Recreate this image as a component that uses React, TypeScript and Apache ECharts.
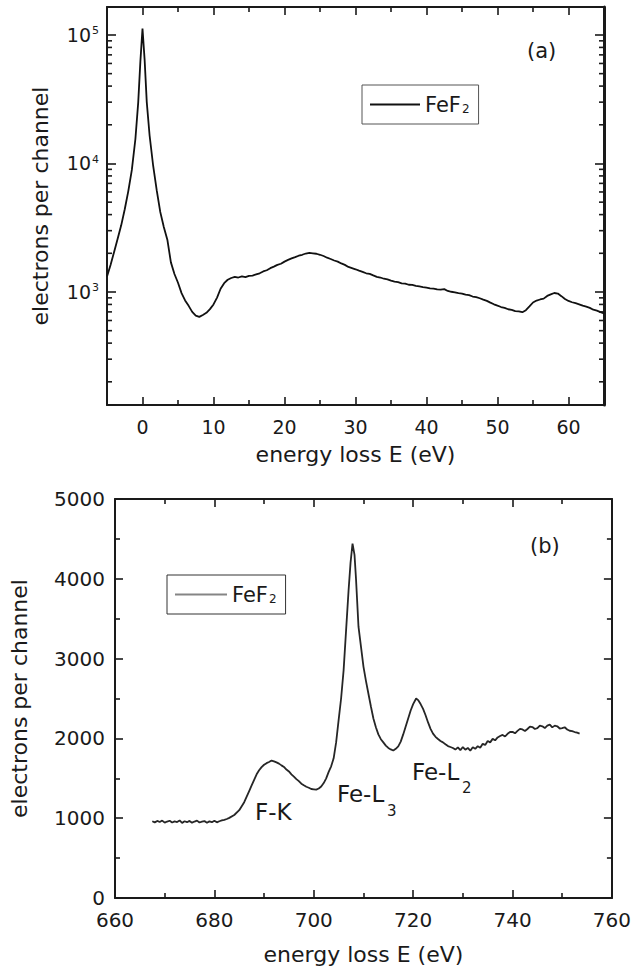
import React, { useEffect, useRef } from 'react';
import * as echarts from 'echarts';

// ---- Panel (a): low-loss spectrum (log scale) ----
const lowLossEnergy = [
  -5.0, -4.5, -4.0, -3.5, -3.0, -2.5, -2.0, -1.5, -1.0, -0.6, -0.3, 0.0, 0.3, 0.6, 1.0, 1.5, 2.0, 2.5, 3.0, 3.5,
  4.0, 4.5, 5.0, 5.5, 6.0, 6.5, 7.0, 7.5, 8.0, 8.5, 9.0, 9.5, 10.0, 10.5, 11.0, 11.5, 12.0, 12.5, 13.0, 13.5,
  14.0, 14.5, 15.0, 15.5, 16.0, 16.5, 17.0, 17.5, 18.0, 18.5, 19.0, 19.5, 20.0, 20.5, 21.0, 21.5, 22.0, 22.5, 23.0, 23.5,
  24.0, 24.5, 25.0, 25.5, 26.0, 26.5, 27.0, 27.5, 28.0, 28.5, 29.0, 29.5, 30.0, 30.5, 31.0, 31.5, 32.0, 32.5, 33.0, 33.5,
  34.0, 34.5, 35.0, 35.5, 36.0, 36.5, 37.0, 37.5, 38.0, 38.5, 39.0, 39.5, 40.0, 40.5, 41.0, 41.5, 42.0, 42.5, 43.0, 43.5,
  44.0, 44.5, 45.0, 45.5, 46.0, 46.5, 47.0, 47.5, 48.0, 48.5, 49.0, 49.5, 50.0, 50.5, 51.0, 51.5, 52.0, 52.5, 53.0, 53.5,
  54.0, 54.5, 55.0, 55.5, 56.0, 56.5, 57.0, 57.5, 58.0, 58.5, 59.0, 59.5, 60.0, 60.5, 61.0, 61.5, 62.0, 62.5, 63.0, 63.5,
  64.0, 64.5, 65.0,
];
const lowLossCounts = [
  1320, 1620, 2050, 2600, 3300, 4400, 6100, 8900, 15500, 30000, 62000, 112000, 64000, 30000, 16500, 9600, 6200, 4200, 3200, 2550,
  1700, 1380, 1180, 980, 860, 780, 700, 655, 640, 662, 688, 735, 800, 905, 1060, 1170, 1245, 1285, 1312, 1296,
  1322, 1305, 1334, 1340, 1372, 1398, 1445, 1476, 1532, 1575, 1625, 1658, 1722, 1776, 1824, 1866, 1915, 1948, 1992, 2012,
  2000, 1984, 1948, 1905, 1848, 1806, 1758, 1724, 1668, 1625, 1566, 1534, 1502, 1466, 1434, 1398, 1384, 1346, 1312, 1296,
  1268, 1254, 1226, 1204, 1192, 1168, 1162, 1138, 1134, 1116, 1104, 1092, 1082, 1068, 1062, 1046, 1044, 1052, 1018, 1004,
  992, 978, 972, 952, 944, 922, 912, 894, 872, 852, 826, 802, 782, 764, 752, 734, 726, 710, 706, 696,
  722, 772, 828, 858, 874, 888, 932, 958, 982, 972, 928, 882, 852, 832, 818, 802, 782, 768, 752, 728,
  716, 698, 680,
];
const lowLossXLabelValues = [0, 10, 20, 30, 40, 50, 60];
const lowLossXMinorValues = [5, 15, 25, 35, 45, 55];
const lowLossYMinorValues = [
  200, 300, 400, 500, 600, 700, 800, 900,
  2000, 3000, 4000, 5000, 6000, 7000, 8000, 9000,
  20000, 30000, 40000, 50000, 60000, 70000, 80000, 90000,
];
const lowLossXRange = [-5, 65];
const lowLossYRange = [132, 165000];

// ---- Panel (b): core-loss spectrum (linear scale) ----
const coreLossEnergy = [
  667.5, 668, 668.5, 669, 669.5, 670, 670.5, 671, 671.5, 672, 672.5, 673, 673.5, 674, 674.5, 675, 675.5, 676, 676.5, 677,
  677.5, 678, 678.5, 679, 679.5, 680, 680.5, 681, 681.5, 682, 682.5, 683, 684, 685, 685.5, 686, 686.5, 687, 687.5, 688,
  688.5, 689, 689.5, 690, 690.5, 691, 691.5, 692, 692.5, 693, 693.5, 694, 694.5, 695, 695.5, 696, 696.5, 697, 697.5, 698,
  698.5, 699, 699.5, 700, 700.5, 701, 701.5, 702, 702.5, 703, 703.5, 704, 704.5, 705, 705.5, 706, 706.5, 707, 707.4, 707.8,
  708.2, 708.5, 709, 709.5, 710, 710.5, 711, 711.5, 712, 712.5, 713, 713.5, 714, 714.5, 715, 715.5, 716, 716.5, 717, 717.5,
  718, 718.5, 719, 719.5, 720, 720.6, 721, 721.5, 722, 722.5, 723, 723.5, 724, 724.5, 725, 725.5, 726, 726.5, 727, 727.5,
  728, 728.5, 729, 729.5, 730, 730.5, 731, 731.5, 732, 732.5, 733, 733.5, 734, 734.5, 735, 735.5, 736, 736.5, 737, 737.5,
  738, 738.5, 739, 739.5, 740, 740.5, 741, 741.5, 742, 742.5, 743, 743.5, 744, 744.5, 745, 745.5, 746, 746.5, 747, 747.5,
  748, 748.5, 749, 749.5, 750, 750.5, 751, 751.5, 752, 752.5, 753, 753.5,
];
const coreLossCounts = [
  962, 948, 966, 952, 970, 944, 958, 968, 946, 960, 952, 972, 940, 962, 950, 966, 944, 958, 970, 946,
  956, 964, 942, 960, 950, 968, 948, 962, 972, 980, 990, 1004, 1040, 1100, 1150, 1200, 1270, 1340, 1410, 1480,
  1550, 1600, 1640, 1670, 1690, 1705, 1722, 1712, 1700, 1684, 1662, 1642, 1610, 1586, 1550, 1522, 1490, 1464, 1432, 1412,
  1394, 1382, 1366, 1362, 1358, 1372, 1398, 1440, 1500, 1580, 1650, 1750, 1950, 2230, 2500, 2850, 3350, 3850, 4200, 4440,
  4300, 4000, 3400, 3150, 2900, 2720, 2560, 2400, 2250, 2140, 2050, 1990, 1950, 1910, 1880, 1862, 1848, 1870, 1900, 1960,
  2050, 2150, 2250, 2350, 2430, 2500, 2480, 2430, 2370, 2290, 2200, 2120, 2060, 2020, 1992, 1968, 1950, 1926, 1904, 1892,
  1880, 1860, 1888, 1852, 1892, 1858, 1880, 1846, 1890, 1870, 1902, 1884, 1932, 1918, 1968, 1950, 1994, 1976, 2012, 2030,
  2044, 2024, 2058, 2080, 2082, 2064, 2094, 2120, 2112, 2092, 2118, 2148, 2142, 2118, 2128, 2160, 2152, 2130, 2160, 2172,
  2138, 2160, 2152, 2124, 2128, 2140, 2112, 2096, 2092, 2080, 2072, 2060,
];
const coreLossXRange = [660, 760];
const coreLossYRange = [0, 5000];

const FONT = 'DejaVu Sans';
const INK = '#1a1a1a';

function App() {
  const ref = useRef<HTMLDivElement>(null);

  useEffect(() => {
    if (!ref.current) return;
    const chart = echarts.init(ref.current, undefined, { renderer: 'svg' });

    const axisLine = { show: true, onZero: false, lineStyle: { color: INK, width: 2 } };
    const noLine = { show: false, onZero: false };
    const tickStyle = { color: INK, width: 1.6 };

    const logLabel = (v: number) => {
      const e = Math.log10(v);
      const r = Math.round(e);
      if (Math.abs(e - r) > 1e-6) return '';
      return `{b|10}{s|${r}}`;
    };

    const legendText = {
      fontFamily: FONT, fontSize: 21, color: INK,
      rich: { s: { fontFamily: FONT, fontSize: 12, color: INK, verticalAlign: 'bottom', padding: [9, 0, 0, 1] } },
    };

    const option: any = {
      animation: false,
      backgroundColor: '#ffffff',
      textStyle: { fontFamily: FONT, color: INK },
      grid: [
        { left: 107, top: 7, width: 497, height: 398 },
        { left: 115, top: 499, width: 497, height: 399 },
      ],
      legend: [
        {
          left: 362, top: 85,
          padding: [9, 9, 9, 8],
          borderColor: '#555', borderWidth: 1,
          icon: 'rect', itemWidth: 50, itemHeight: 2, itemGap: 0,
          data: ['FeF2 (a)'],
          formatter: () => 'FeF{s|2}',
          textStyle: legendText,
          itemStyle: { color: '#111' },
          selectedMode: false,
        },
        {
          left: 167, top: 575,
          padding: [9, 9, 9, 8],
          borderColor: '#333', borderWidth: 1,
          icon: 'rect', itemWidth: 52, itemHeight: 2, itemGap: 0,
          data: ['FeF2 (b)'],
          formatter: () => 'FeF{s|2}',
          textStyle: legendText,
          itemStyle: { color: '#858585' },
          selectedMode: false,
        },
      ],
      xAxis: [
        // panel (a) bottom, major
        {
          gridIndex: 0, type: 'value', position: 'bottom', min: lowLossXRange[0], max: lowLossXRange[1],
          axisLine,
          axisTick: { show: true, inside: true, length: 8, customValues: lowLossXLabelValues, lineStyle: tickStyle },
          axisLabel: { customValues: lowLossXLabelValues, fontSize: 19, margin: 12, color: INK, fontFamily: FONT },
          splitLine: { show: false },
          name: 'energy loss E (eV)', nameLocation: 'middle', nameGap: 38,
          nameTextStyle: { fontSize: 22, color: INK, fontFamily: FONT },
        },
        // panel (a) bottom, minor
        {
          gridIndex: 0, type: 'value', position: 'bottom', min: lowLossXRange[0], max: lowLossXRange[1],
          axisLine: noLine,
          axisTick: { show: true, inside: true, length: 5, customValues: lowLossXMinorValues, lineStyle: tickStyle },
          axisLabel: { show: false }, splitLine: { show: false },
        },
        // panel (a) top, major
        {
          gridIndex: 0, type: 'value', position: 'top', min: lowLossXRange[0], max: lowLossXRange[1],
          axisLine,
          axisTick: { show: true, inside: true, length: 8, customValues: lowLossXLabelValues, lineStyle: tickStyle },
          axisLabel: { show: false }, splitLine: { show: false },
        },
        // panel (a) top, minor
        {
          gridIndex: 0, type: 'value', position: 'top', min: lowLossXRange[0], max: lowLossXRange[1],
          axisLine: noLine,
          axisTick: { show: true, inside: true, length: 5, customValues: lowLossXMinorValues, lineStyle: tickStyle },
          axisLabel: { show: false }, splitLine: { show: false },
        },
        // panel (b) bottom
        {
          gridIndex: 1, type: 'value', position: 'bottom', min: coreLossXRange[0], max: coreLossXRange[1], interval: 20,
          axisLine,
          axisTick: { show: true, inside: true, length: 8, lineStyle: tickStyle },
          minorTick: { show: true, splitNumber: 2, length: 5, lineStyle: tickStyle },
          axisLabel: { fontSize: 20, margin: 12, color: INK, fontFamily: FONT, formatter: (v: number) => String(v) },
          splitLine: { show: false },
          name: 'energy loss E (eV)', nameLocation: 'middle', nameGap: 45,
          nameTextStyle: { fontSize: 22, color: INK, fontFamily: FONT },
        },
        // panel (b) top
        {
          gridIndex: 1, type: 'value', position: 'top', min: coreLossXRange[0], max: coreLossXRange[1], interval: 20,
          axisLine,
          axisTick: { show: true, inside: true, length: 8, lineStyle: tickStyle },
          minorTick: { show: true, splitNumber: 2, length: 5, lineStyle: tickStyle },
          axisLabel: { show: false }, splitLine: { show: false },
        },
      ],
      yAxis: [
        // panel (a) left (log)
        {
          gridIndex: 0, type: 'log', logBase: 10, position: 'left', min: lowLossYRange[0], max: lowLossYRange[1],
          axisLine,
          axisTick: { show: true, inside: true, length: 9, lineStyle: tickStyle },
          axisLabel: {
            formatter: logLabel, margin: 8, color: INK, fontFamily: FONT,
            rich: {
              b: { fontSize: 19, fontFamily: FONT, color: INK },
              s: { fontSize: 11, fontFamily: FONT, color: INK, verticalAlign: 'top', padding: [0, 0, 6, 1] },
            },
          },
          splitLine: { show: false }, minorTick: { show: false },
          name: 'electrons per channel', nameLocation: 'middle', nameGap: 56, nameRotate: 90,
          nameTextStyle: { fontSize: 22, color: INK, fontFamily: FONT },
        },
        // panel (a) right (log)
        {
          gridIndex: 0, type: 'log', logBase: 10, position: 'right', min: lowLossYRange[0], max: lowLossYRange[1],
          axisLine: { show: true, onZero: false, lineStyle: { color: INK, width: 3 } },
          axisTick: { show: true, inside: true, length: 9, lineStyle: tickStyle },
          axisLabel: { show: false }, splitLine: { show: false },
        },
        // panel (b) left
        {
          gridIndex: 1, type: 'value', position: 'left', min: coreLossYRange[0], max: coreLossYRange[1], interval: 1000,
          axisLine,
          axisTick: { show: true, inside: true, length: 8, lineStyle: tickStyle },
          minorTick: { show: true, splitNumber: 2, length: 5, lineStyle: tickStyle },
          axisLabel: { fontSize: 20, margin: 10, color: INK, fontFamily: FONT, formatter: (v: number) => String(v) },
          splitLine: { show: false },
          name: 'electrons per channel', nameLocation: 'middle', nameGap: 85, nameRotate: 90,
          nameTextStyle: { fontSize: 22, color: INK, fontFamily: FONT },
        },
        // panel (b) right
        {
          gridIndex: 1, type: 'value', position: 'right', min: coreLossYRange[0], max: coreLossYRange[1], interval: 1000,
          axisLine,
          axisTick: { show: true, inside: true, length: 8, lineStyle: tickStyle },
          minorTick: { show: true, splitNumber: 2, length: 5, lineStyle: tickStyle },
          axisLabel: { show: false }, splitLine: { show: false },
        },
      ],
      series: [
        {
          name: 'FeF2 (a)', type: 'line', xAxisIndex: 0, yAxisIndex: 0,
          data: lowLossEnergy.map((e, i) => [e, lowLossCounts[i]]),
          showSymbol: false, symbol: 'none', smooth: false,
          lineStyle: { color: '#111', width: 1.8 },
          itemStyle: { color: '#111' },
        },
        {
          name: 'lowLossMinorTicks', type: 'custom', xAxisIndex: 0, yAxisIndex: 0,
          silent: true, clip: false,
          data: lowLossYMinorValues.map((v) => [lowLossXRange[0], v]),
          renderItem: (params: any, api: any) => {
            const y = api.coord([lowLossXRange[0], api.value(1)])[1];
            const cs = params.coordSys;
            return {
              type: 'group',
              children: [
                { type: 'line', shape: { x1: cs.x, y1: y, x2: cs.x + 5, y2: y }, style: { stroke: INK, lineWidth: 1.6 } },
                { type: 'line', shape: { x1: cs.x + cs.width - 5, y1: y, x2: cs.x + cs.width, y2: y }, style: { stroke: INK, lineWidth: 1.6 } },
              ],
            };
          },
        },
        {
          name: 'FeF2 (b)', type: 'line', xAxisIndex: 4, yAxisIndex: 2,
          data: coreLossEnergy.map((e, i) => [e, coreLossCounts[i]]),
          showSymbol: false, symbol: 'none', smooth: false,
          lineStyle: { color: '#262626', width: 1.8 },
          itemStyle: { color: '#858585' },
        },
      ],
      graphic: [
        { type: 'text', left: 527, top: 40, style: { text: '(a)', fontSize: 21, fontFamily: FONT, fill: INK } },
        { type: 'text', left: 530, top: 535, style: { text: '(b)', fontSize: 21, fontFamily: FONT, fill: INK } },
        { type: 'text', left: 255, top: 800, style: { text: 'F-K', fontSize: 23, fontFamily: FONT, fill: INK } },
        { type: 'text', left: 337, top: 782, style: { text: 'Fe-L', fontSize: 23, fontFamily: FONT, fill: INK } },
        { type: 'text', left: 387, top: 803, style: { text: '3', fontSize: 15, fontFamily: FONT, fill: INK } },
        { type: 'text', left: 412, top: 760, style: { text: 'Fe-L', fontSize: 23, fontFamily: FONT, fill: INK } },
        { type: 'text', left: 462, top: 780, style: { text: '2', fontSize: 15, fontFamily: FONT, fill: INK } },
      ],
    };

    chart.setOption(option);
    return () => chart.dispose();
  }, []);

  return (
    <div
      ref={ref}
      style={{ position: 'fixed', left: 0, top: 0, width: 634, height: 970, background: '#fff' }}
    />
  );
}

export default App;
